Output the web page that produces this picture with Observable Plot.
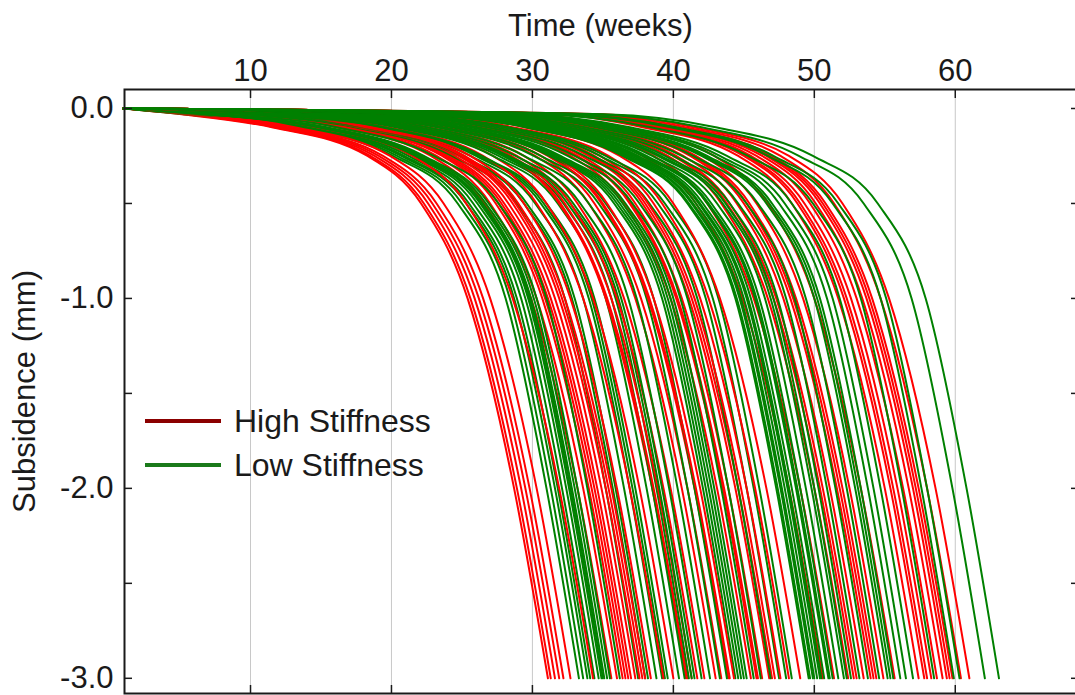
<!DOCTYPE html>
<html>
<head>
<meta charset="utf-8">
<script src="https://cdn.jsdelivr.net/npm/d3@7"></script>
<script src="https://cdn.jsdelivr.net/npm/@observablehq/plot@0.6"></script>
<style>
  html, body { margin: 0; padding: 0; background: #fff; }
  #wrap { position: relative; width: 1075px; height: 695px; overflow: hidden; font-family: "Liberation Sans", Arial, sans-serif; }
  #wrap svg { max-width: none !important; display: block; }
  #legend { position: absolute; left: 145px; top: 399px; color: #1a1a1a; font-size: 32px; }
  #legend .row { display: flex; align-items: center; height: 44px; }
  #legend .sw { width: 76px; height: 4px; margin-right: 13px; }
</style>
</head>
<body>
<div id="wrap"><div id="legend"></div></div>
<script>
// ---- data ----
const groups = ["High Stiffness", "Low Stiffness"];
const lineColors = ["#ff0000", "#008000"];
const legendColors = ["#8b0000", "#1a7a1a"];

// week at which each run reaches -3.0 mm
const redEnd = [31.1, 31.3, 31.6, 31.9, 32.2, 32.7, 34.3, 35.6, 36.0, 36.4, 36.6, 36.8, 37.0, 37.3, 37.6, 37.8,
  38.0, 38.4, 39.3, 40.0, 40.9, 41.0, 41.3, 41.7, 42.2, 43.0, 43.4, 43.9, 44.0, 44.3, 45.5, 45.9, 46.0, 46.3,
  46.8, 47.0, 47.2, 47.6, 48.2, 49.0, 50.6, 51.4, 52.4, 52.8, 53.0, 53.5, 54.0, 54.2, 54.4, 54.9, 55.7, 57.4,
  57.8, 58.0, 58.3, 58.7, 59.1, 59.4, 59.6, 59.8, 60.4, 61.0];
const greenEnd = [33.3, 33.6, 33.9, 34.1, 34.4, 34.7, 34.9, 35.0, 35.1, 35.3, 35.5, 36.2, 37.5, 38.0, 38.2, 38.8,
  39.2, 39.4, 39.6, 40.4, 40.8, 41.1, 41.3, 41.5, 42.0, 42.6, 43.3, 43.8, 44.4, 44.6, 44.8, 45.0, 45.2, 45.7,
  46.2, 46.9, 47.5, 48.0, 48.4, 49.6, 49.7, 49.9, 50.0, 50.2, 50.4, 50.5, 50.7, 51.0, 51.1, 51.3, 51.7, 52.1,
  52.3, 52.6, 53.2, 53.8, 54.6, 55.2, 55.4, 55.6, 56.1, 56.5, 57.0, 58.5, 59.9, 60.3, 62.1, 63.1];

// subsidence levels and weeks-before-end at which curves pass them
const levels   = [0, -0.03, -0.1, -0.25, -0.5, -1.0, -2.0, -3.0];
const redLag   = [null, 26, 19.5, 12.8, 9.0, 5.7, 2.4, 0];
const greenLag = [null, 28, 20.0, 13.2, 8.6, 5.2, 2.3, 0];
const startWeek = 1;

const xTicks = [10, 20, 30, 40, 50, 60];
const yLabelTicks = [0, -1, -2, -3];
const yMinorTicks = [0, -0.5, -1, -1.5, -2, -2.5, -3];

// ---- build table ----
function runRows(end, lag, group, id) {
  const rows = [{id, group, t: startWeek, s: levels[0]}];
  for (let i = 1; i < levels.length; i++) {
    const t = end - lag[i];
    if (t > startWeek + 0.8) rows.push({id, group, t, s: levels[i]});
  }
  return rows;
}
const rows = [];
const n = Math.max(redEnd.length, greenEnd.length);
for (let k = 0; k < n; k++) {
  if (k < redEnd.length) rows.push(...runRows(redEnd[k], redLag, groups[0], "r" + k));
  if (k < greenEnd.length) rows.push(...runRows(greenEnd[k], greenLag, groups[1], "g" + k));
}

const plot = Plot.plot({
  width: 1078,
  height: 695,
  marginLeft: 124,
  marginRight: 2,
  marginTop: 89,
  marginBottom: 2,
  style: {fontFamily: '"Liberation Sans", Arial, sans-serif', fontSize: "31px", color: "#1a1a1a", background: "white", maxWidth: "none"},
  x: {domain: [1.06, 68.6]},
  y: {domain: [-3.08, 0.1]},
  color: {domain: groups, range: lineColors},
  marks: [
    Plot.gridX(xTicks, {stroke: "#c8c8c8", strokeOpacity: 1, strokeWidth: 1}),
    Plot.line(rows, {x: "t", y: "s", z: "id", stroke: "group", curve: "monotone-x", strokeWidth: 2}),
    Plot.axisX(xTicks, {anchor: "top", tickSize: 0, tickPadding: 9, label: "Time (weeks)", labelAnchor: "center", labelArrow: "none", labelOffset: 76, fontSize: 31}),
    Plot.axisX(xTicks, {anchor: "top", tickSize: -8, tickFormat: () => "", label: null, strokeWidth: 1.5}),
    Plot.axisX(xTicks, {anchor: "bottom", tickSize: -8, tickFormat: () => "", label: null, strokeWidth: 1.5}),
    Plot.axisY(yLabelTicks, {anchor: "left", tickSize: 0, tickPadding: 11, tickFormat: d => d.toFixed(1), label: "Subsidence (mm)", labelAnchor: "center", labelArrow: "none", labelOffset: 112, fontSize: 31}),
    Plot.axisY(yMinorTicks, {anchor: "left", tickSize: -8, tickFormat: () => "", label: null, strokeWidth: 1.5}),
    Plot.axisY(yMinorTicks, {anchor: "right", tickSize: -6, tickFormat: () => "", label: null, strokeWidth: 1.5}),
    Plot.frame({stroke: "#1a1a1a", strokeWidth: 2})
  ]
});
document.getElementById("wrap").prepend(plot);

// legend
const legend = document.getElementById("legend");
groups.forEach((g, i) => {
  const row = document.createElement("div");
  row.className = "row";
  const sw = document.createElement("div");
  sw.className = "sw";
  sw.style.background = legendColors[i];
  const tx = document.createElement("span");
  tx.textContent = g;
  row.append(sw, tx);
  legend.append(row);
});
</script>
</body>
</html>
